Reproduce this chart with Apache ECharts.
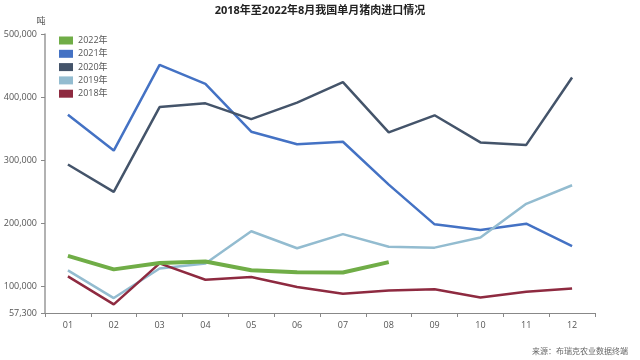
<!DOCTYPE html>
<html>
<head>
<meta charset="utf-8">
<script src="https://cdn.jsdelivr.net/npm/echarts@6/dist/echarts.min.js"></script>
<style>html,body{margin:0;padding:0;background:#fff;}#c{width:640px;height:360px;}</style>
</head>
<body>
<div id="c"></div>
<script>
var months = ['01','02','03','04','05','06','07','08','09','10','11','12'];
var s2022 = [148000,126500,136500,139000,125000,122000,121500,138000];
var s2021 = [372000,315000,451000,421000,345000,325000,329000,261000,198000,189000,199000,163500];
var s2020 = [293000,249500,384000,390000,365000,391000,423500,344000,371000,328000,324000,431000];
var s2019 = [125000,81000,128000,136000,187000,160000,182500,162500,161000,177000,230500,260000];
var s2018 = [115500,71000,136000,110000,114400,98600,88000,93000,95000,82000,91000,96000];
var yTicks = [57300,100000,200000,300000,400000,500000];
var names = ['2022年','2021年','2020年','2019年','2018年'];
var colors = ['#70ad47','#4472c4','#44546a','#93bcd0','#8e2a40'];
var seriesData = [s2022,s2021,s2020,s2019,s2018];

var chart = echarts.init(document.getElementById('c'));
var font = 'Open Sans, Noto Sans CJK SC, sans-serif';
chart.setOption({
  animation:false,
  textStyle:{fontFamily:font},
  title:{text:'2018年至2022年8月我国单月猪肉进口情况',left:'center',top:0,
    textStyle:{fontSize:11,fontWeight:'bold',color:'#222',fontFamily:font}},
  legend:{orient:'vertical',left:54,top:31,itemWidth:14,itemHeight:8,itemGap:4.3,
    icon:'rect',textStyle:{fontSize:9,color:'#555'},data:names},
  grid:{left:45,right:45,top:34,bottom:47},
  xAxis:{type:'category',data:months,boundaryGap:true,
    axisLine:{lineStyle:{color:'#888'}},
    axisTick:{show:true,length:4,lineStyle:{color:'#888'}},
    axisLabel:{fontSize:9,color:'#555',margin:8}},
  yAxis:{type:'value',min:57300,max:500000,name:'吨',nameLocation:'end',nameGap:8,
    nameTextStyle:{fontSize:9,color:'#555',padding:[0,8,0,0]},
    axisLine:{show:true,lineStyle:{color:'#999',width:1.5}},
    axisTick:{show:true,length:4,customValues:yTicks,lineStyle:{color:'#888'}},
    axisLabel:{fontSize:9,color:'#555',customValues:yTicks,
      formatter:function(v){return v.toLocaleString('en-US');}},
    splitLine:{show:false}},
  graphic:[{type:'text',right:12,bottom:4,style:{text:'来源：布瑞克农业数据终端',fontSize:8,fill:'#666',fontFamily:font}}],
  series:seriesData.map(function(d,i){
    return {name:names[i],type:'line',data:d,symbol:'none',
      color:colors[i],
      lineStyle:{width:i===0?4:2.5,color:colors[i]},z:i===0?3:2};
  })
});
</script>
</body>
</html>
